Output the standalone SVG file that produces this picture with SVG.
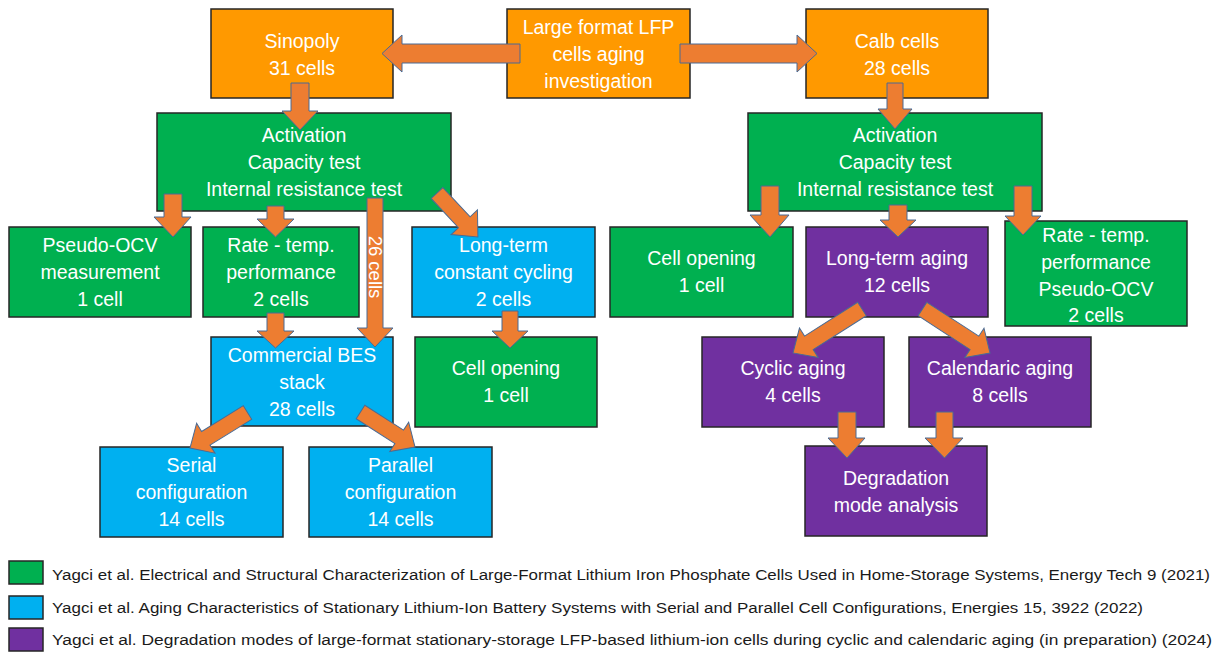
<svg xmlns="http://www.w3.org/2000/svg" width="1222" height="652" viewBox="0 0 1222 652">
<style>
.box{stroke:#262626;stroke-width:1.5}
.o{fill:#FF9900}
.g{fill:#00B050}
.b{fill:#00B0F0}
.p{fill:#7030A0}
.t{font-family:"Liberation Sans",Arial,sans-serif;font-size:19.5px;fill:#FFFFFF;text-anchor:middle}
.arr{fill:#ED7D31;stroke:#4A6B94;stroke-width:1}
.lg{font-family:"Liberation Sans",Arial,sans-serif;font-size:15.5px;fill:#1A1A1A}
</style>
<rect width="1222" height="652" fill="#FFFFFF"/>

<g id="n-sinopoly"><rect class="box o" x="211" y="9" width="182" height="89"/>
<text class="t" x="302" y="47.5">Sinopoly</text><text class="t" x="302" y="74.5">31 cells</text></g>
<g id="n-large"><rect class="box o" x="507" y="9" width="183" height="89"/>
<text class="t" x="598.5" y="33.5">Large format LFP</text><text class="t" x="598.5" y="60.5">cells aging</text><text class="t" x="598.5" y="87.5">investigation</text></g>
<g id="n-calb"><rect class="box o" x="806" y="9" width="182" height="89"/>
<text class="t" x="897" y="47.5">Calb cells</text><text class="t" x="897" y="74.5">28 cells</text></g>

<g id="n-actL"><rect class="box g" x="157" y="113" width="294" height="98"/>
<text class="t" x="304" y="141.5">Activation</text><text class="t" x="304" y="168.5">Capacity test</text><text class="t" x="304" y="195.5">Internal resistance test</text></g>
<g id="n-actR"><rect class="box g" x="748" y="113" width="294" height="98"/>
<text class="t" x="895" y="141.5">Activation</text><text class="t" x="895" y="168.5">Capacity test</text><text class="t" x="895" y="195.5">Internal resistance test</text></g>

<g id="n-pocv"><rect class="box g" x="9" y="227" width="182" height="90"/>
<text class="t" x="100" y="251.5">Pseudo-OCV</text><text class="t" x="100" y="278.5">measurement</text><text class="t" x="100" y="305.5">1 cell</text></g>
<g id="n-rateL"><rect class="box g" x="203" y="227" width="156" height="90"/>
<text class="t" x="281" y="251.5">Rate - temp.</text><text class="t" x="281" y="278.5">performance</text><text class="t" x="281" y="305.5">2 cells</text></g>
<g id="n-ltcc"><rect class="box b" x="412" y="227" width="183" height="90"/>
<text class="t" x="503.5" y="251.5">Long-term</text><text class="t" x="503.5" y="278.5">constant cycling</text><text class="t" x="503.5" y="305.5">2 cells</text></g>
<g id="n-openR"><rect class="box g" x="610" y="227" width="183" height="90"/>
<text class="t" x="701.5" y="265">Cell opening</text><text class="t" x="701.5" y="292">1 cell</text></g>
<g id="n-lta"><rect class="box p" x="806" y="227" width="182" height="90"/>
<text class="t" x="897" y="265">Long-term aging</text><text class="t" x="897" y="292">12 cells</text></g>
<g id="n-rateR"><rect class="box g" x="1005" y="221" width="182" height="105"/>
<text class="t" x="1096" y="241.5">Rate - temp.</text><text class="t" x="1096" y="268.5">performance</text><text class="t" x="1096" y="295.5">Pseudo-OCV</text><text class="t" x="1096" y="322">2 cells</text></g>

<g id="n-bes"><rect class="box b" x="211" y="337" width="182" height="89"/>
<text class="t" x="302" y="361.5">Commercial BES</text><text class="t" x="302" y="388.5">stack</text><text class="t" x="302" y="415.5">28 cells</text></g>
<g id="n-openL"><rect class="box g" x="415" y="337" width="182" height="90"/>
<text class="t" x="506" y="375">Cell opening</text><text class="t" x="506" y="402">1 cell</text></g>
<g id="n-cyc"><rect class="box p" x="702" y="337" width="182" height="90"/>
<text class="t" x="793" y="375">Cyclic aging</text><text class="t" x="793" y="402">4 cells</text></g>
<g id="n-cal"><rect class="box p" x="909" y="337" width="182" height="90"/>
<text class="t" x="1000" y="375">Calendaric aging</text><text class="t" x="1000" y="402">8 cells</text></g>

<g id="n-serial"><rect class="box b" x="100" y="447" width="183" height="90"/>
<text class="t" x="191.5" y="471.5">Serial</text><text class="t" x="191.5" y="498.5">configuration</text><text class="t" x="191.5" y="525.5">14 cells</text></g>
<g id="n-parallel"><rect class="box b" x="309" y="447" width="183" height="90"/>
<text class="t" x="400.5" y="471.5">Parallel</text><text class="t" x="400.5" y="498.5">configuration</text><text class="t" x="400.5" y="525.5">14 cells</text></g>
<g id="n-deg"><rect class="box p" x="805" y="446" width="182" height="90"/>
<text class="t" x="896" y="484.5">Degradation</text><text class="t" x="896" y="511.5">mode analysis</text></g>

<g id="connectors">
<polygon class="arr" points="520,44 402,44 402,35 382,53.5 402,72 402,63 520,63"/>
<polygon class="arr" points="680,44 797,44 797,35 817,53.5 797,72 797,63 680,63"/>
<polygon class="arr" points="291,83 309,83 309,111 318,111 300,130 282,111 291,111"/>
<polygon class="arr" points="887,83 903,83 903,109 912,109 895,129 878,109 887,109"/>
<polygon class="arr" points="164,194 182,194 182,217 191,217 173,237 154,217 164,217"/>
<polygon class="arr" points="267,206 284,206 284,219 294,219 275.5,237 257,219 267,219"/>
<polygon class="arr" points="367,198 383,198 383,328 393,328 375,347 357,328 367,328"/>
<text x="0" y="0" transform="translate(368.5,267) rotate(90)" font-family="Liberation Sans, Arial, sans-serif" font-size="18.5" fill="#FFFFFF" text-anchor="middle">26 cells</text>
<polygon class="arr" points="0,-8 40,-8 40,-18 60,0 40,18 40,8 0,8" transform="translate(437,193) rotate(47)"/>
<polygon class="arr" points="267,313 284,313 284,331 294,331 275.5,348 257,331 267,331"/>
<polygon class="arr" points="502,311 518,311 518,331 528,331 510,348 492,331 502,331"/>
<polygon class="arr" points="0,-8 49,-8 49,-17.5 67.6,0 49,17.5 49,8 0,8" transform="translate(247.5,412.5) rotate(148.3)"/>
<polygon class="arr" points="0,-8 46,-8 46,-17.5 64.8,0 46,17.5 46,8 0,8" transform="translate(360.5,412) rotate(32.7)"/>
<polygon class="arr" points="761,186 779,186 779,215 789,215 770,237 750,215 761,215"/>
<polygon class="arr" points="889,205 907,205 907,220 916,220 898,237 880,220 889,220"/>
<polygon class="arr" points="1014,186 1032,186 1032,216 1041,216 1023,235 1005,216 1014,216"/>
<polygon class="arr" points="0,-8 63,-8 63,-17.5 81.8,0 63,17.5 63,8 0,8" transform="translate(862,309) rotate(147.5)"/>
<polygon class="arr" points="0,-8 62,-8 62,-17.5 80.6,0 62,17.5 62,8 0,8" transform="translate(922.5,309) rotate(33.1)"/>
<polygon class="arr" points="838,412 856,412 856,438 865,438 847,458 828,438 838,438"/>
<polygon class="arr" points="936,412 953,412 953,438 963,438 944.5,458 925,438 936,438"/>
</g>

<g id="legend">
<rect class="box g" x="9" y="561" width="34" height="23"/>
<rect class="box b" x="9" y="596" width="34" height="23"/>
<rect class="box p" x="9" y="628" width="34" height="23"/>
<text class="lg" x="52" y="580" textLength="1158" lengthAdjust="spacingAndGlyphs">Yagci et al. Electrical and Structural Characterization of Large-Format Lithium Iron Phosphate Cells Used in Home-Storage Systems, Energy Tech 9 (2021)</text>
<text class="lg" x="52" y="613" textLength="1091" lengthAdjust="spacingAndGlyphs">Yagci et al. Aging Characteristics of Stationary Lithium-Ion Battery Systems with Serial and Parallel Cell Configurations, Energies 15, 3922 (2022)</text>
<text class="lg" x="52" y="645" textLength="1160" lengthAdjust="spacingAndGlyphs">Yagci et al. Degradation modes of large-format stationary-storage LFP-based lithium-ion cells during cyclic and calendaric aging (in preparation) (2024)</text>
</g>
</svg>
